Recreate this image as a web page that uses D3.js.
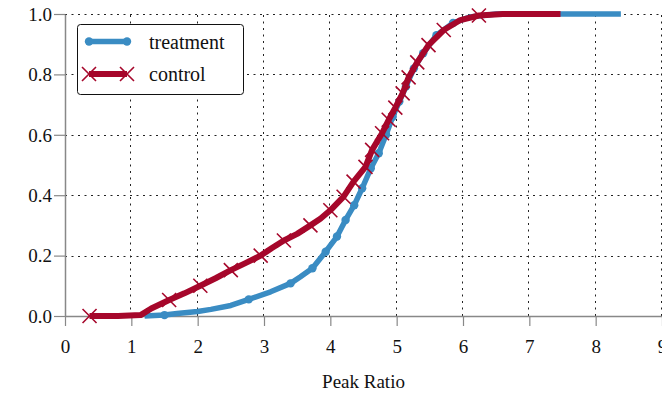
<!DOCTYPE html>
<html>
<head>
<meta charset="utf-8">
<script src="https://cdn.jsdelivr.net/npm/d3@7"></script>
<style>
  body { margin: 0; background: #fff; }
  svg { display: block; }
  svg text { font-family: "Liberation Serif", "Times New Roman", Tinos, "DejaVu Serif", "Noto Serif", Times, serif; }
</style>
</head>
<body>
<svg id="chart" width="662" height="395"></svg>
<script>
// treatment series (x = peak ratio, y = cumulative fraction)
const treatmentX = [1.2, 1.5, 1.69, 2.0, 2.2, 2.5, 2.77, 3.1, 3.4, 3.55, 3.73, 3.93, 4.1, 4.23, 4.36, 4.48, 4.61, 4.73, 4.84, 4.94, 5.04, 5.14, 5.26, 5.4, 5.6, 5.85, 6.1, 6.5, 8.38];
const treatmentY = [0, 0.003, 0.008, 0.015, 0.022, 0.035, 0.055, 0.08, 0.108, 0.13, 0.158, 0.213, 0.263, 0.318, 0.367, 0.423, 0.489, 0.539, 0.6, 0.66, 0.71, 0.76, 0.82, 0.87, 0.93, 0.97, 0.99, 1.0, 1.0];
const treatmentMarks = [1, 6, 8, 10, 11, 12, 13, 14, 15, 16, 17, 18, 19, 20, 21, 22, 23, 24, 25];

// control series
const controlX = [0.37, 0.8, 1.14, 1.3, 1.57, 1.8, 2.04, 2.27, 2.5, 2.72, 2.95, 3.12, 3.3, 3.5, 3.7, 3.85, 4.0, 4.2, 4.35, 4.53, 4.63, 4.78, 4.88, 4.98, 5.09, 5.18, 5.31, 5.48, 5.71, 5.96, 6.24, 6.6, 7.47];
const controlY = [0, 0, 0.003, 0.025, 0.053, 0.075, 0.1, 0.125, 0.152, 0.175, 0.2, 0.225, 0.25, 0.272, 0.3, 0.322, 0.35, 0.395, 0.445, 0.494, 0.55, 0.605, 0.65, 0.69, 0.737, 0.79, 0.84, 0.897, 0.947, 0.98, 0.995, 1.0, 1.0];
const controlMarks = [0, 4, 6, 8, 10, 12, 14, 16, 17, 18, 19, 20, 21, 22, 23, 24, 25, 26, 27, 28, 30];

const xTicks = [0, 1, 2, 3, 4, 5, 6, 7, 8, 9];
const yTicks = [0, 0.2, 0.4, 0.6, 0.8, 1.0];
const xLabel = "Peak Ratio";
const seriesNames = ["treatment", "control"];

const blue = "#3a8cc3";
const red = "#a6072b";

const svg = d3.select("#chart");
const margin = { top: 14, right: 0, bottom: 79, left: 65 };
const width = 662 - margin.left - margin.right;
const height = 395 - margin.top - margin.bottom;

const x = d3.scaleLinear().domain([0, 9]).range([margin.left, margin.left + width]);
const y = d3.scaleLinear().domain([0, 1]).range([margin.top + height, margin.top]);

// grid
const grid = svg.append("g").attr("stroke", "#222").attr("stroke-width", 1).attr("stroke-dasharray", "2,4.5");
grid.selectAll("line.gx").data(xTicks.slice(1)).enter().append("line")
  .attr("x1", d => Math.round(x(d)) - 0.5).attr("x2", d => Math.round(x(d)) - 0.5)
  .attr("y1", y(0)).attr("y2", y(1));
grid.selectAll("line.gy").data(yTicks.slice(1)).enter().append("line")
  .attr("x1", x(0)).attr("x2", x(9))
  .attr("y1", d => Math.round(y(d)) + 0.5).attr("y2", d => Math.round(y(d)) + 0.5);

// axes
const xAxis = svg.append("g")
  .attr("transform", "translate(0," + y(0) + ")")
  .call(d3.axisBottom(x).tickValues(xTicks).tickFormat(d3.format("d")).tickSize(10).tickSizeOuter(0));
const yAxis = svg.append("g")
  .attr("transform", "translate(" + x(0) + ",0)")
  .call(d3.axisLeft(y).tickValues(yTicks).tickFormat(d3.format(".1f")).tickSize(11).tickSizeOuter(0));

[xAxis, yAxis].forEach(a => {
  a.attr("font-family", null);
  a.select(".domain").attr("stroke", "#888").attr("stroke-width", 1.5);
  a.selectAll(".tick line").attr("stroke", "#888").attr("stroke-width", 1.2);
  a.selectAll("text").attr("fill", "#111").style("font-size", "19px");
});
xAxis.selectAll("text").attr("dy", "1.25em");
yAxis.selectAll("text").attr("x", -13).attr("dy", "0.33em");
yAxis.raise();

svg.append("text")
  .attr("x", x(4.5)).attr("y", 388)
  .attr("text-anchor", "middle")
  .style("font-size", "19px")
  .attr("fill", "#111")
  .text(xLabel);

const line = d3.line().x(d => x(d[0])).y(d => y(d[1]));
const treatment = treatmentX.map((v, i) => [v, treatmentY[i]]);
const control = controlX.map((v, i) => [v, controlY[i]]);

// treatment line + circle marks
svg.append("path").datum(treatment)
  .attr("d", line).attr("fill", "none")
  .attr("stroke", blue).attr("stroke-width", 5.5).attr("stroke-linejoin", "round");
svg.selectAll("circle.t").data(treatmentMarks.map(i => treatment[i])).enter().append("circle")
  .attr("cx", d => x(d[0])).attr("cy", d => y(d[1])).attr("r", 4.2).attr("fill", blue);

// control line + x marks
const xMark = (g, cx, cy, s) => {
  g.append("path")
    .attr("d", `M${cx - s},${cy - s}L${cx + s},${cy + s}M${cx - s},${cy + s}L${cx + s},${cy - s}`)
    .attr("stroke", red).attr("stroke-width", 1.6).attr("fill", "none");
};
svg.append("path").datum(control)
  .attr("d", line).attr("fill", "none")
  .attr("stroke", red).attr("stroke-width", 6).attr("stroke-linejoin", "round");
const cm = svg.append("g");
controlMarks.forEach(i => xMark(cm, x(control[i][0]), y(control[i][1]), 7));

// legend
const lg = svg.append("g");
lg.append("rect")
  .attr("x", 77.5).attr("y", 24.5).attr("width", 166).attr("height", 70)
  .attr("rx", 3).attr("fill", "#fff").attr("stroke", "#111").attr("stroke-width", 1);
lg.append("line").attr("x1", 89).attr("x2", 127).attr("y1", 41.5).attr("y2", 41.5)
  .attr("stroke", blue).attr("stroke-width", 5.5);
[89, 127].forEach(cx => lg.append("circle").attr("cx", cx).attr("cy", 41.5).attr("r", 4.2).attr("fill", blue));
lg.append("line").attr("x1", 89).attr("x2", 127).attr("y1", 74).attr("y2", 74)
  .attr("stroke", red).attr("stroke-width", 6);
[89, 127].forEach(cx => xMark(lg, cx, 74, 7));
lg.selectAll("text.l").data(seriesNames).enter().append("text")
  .attr("x", 149).attr("y", (d, i) => 48.5 + i * 32.5)
  .style("font-size", "20px").attr("fill", "#111")
  .text(d => d);
</script>
</body>
</html>
